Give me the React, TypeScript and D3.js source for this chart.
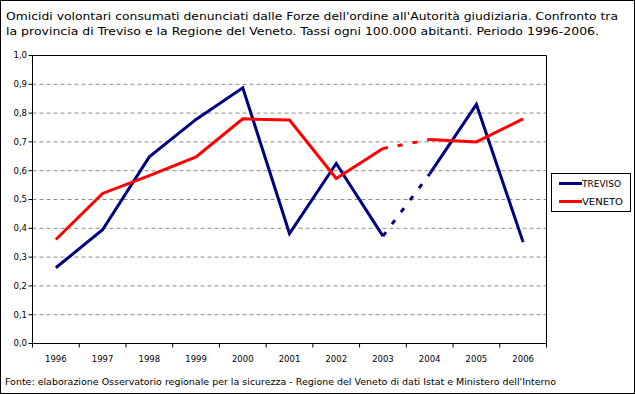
import React from "react";
import * as d3 from "d3";

// dati (tassi ogni 100.000 abitanti)
const years = ["1996", "1997", "1998", "1999", "2000", "2001", "2002", "2003", "2004", "2005", "2006"];
const treviso = [0.263, 0.395, 0.648, 0.778, 0.888, 0.382, 0.625, 0.373, 0.589, 0.83, 0.352];
const veneto = [0.361, 0.521, 0.583, 0.648, 0.78, 0.776, 0.573, 0.677, 0.708, 0.7, 0.78];
const yTicks = [0, 0.1, 0.2, 0.3, 0.4, 0.5, 0.6, 0.7, 0.8, 0.9, 1.0];
const dashedFrom = "2003"; // il tratto 2003-2004 è tratteggiato
const seriesNames = ["TREVISO", "VENETO"];
const seriesColors = ["#000080", "#FF0000"];

const titleLines = [
  "Omicidi volontari consumati denunciati dalle Forze dell'ordine all'Autorità giudiziaria. Confronto tra",
  "la provincia di Treviso e la Regione del Veneto. Tassi ogni 100.000 abitanti. Periodo 1996-2006.",
];
const source =
  "Fonte: elaborazione Osservatorio regionale per la sicurezza - Regione del Veneto di dati Istat e Ministero dell'Interno";

const W = 635;
const H = 394;
const font = "'DejaVu Sans', Verdana, sans-serif";

const x = d3.scaleBand<string>().domain(years).range([32.5, 546.5]);
const y = d3.scaleLinear().domain([0, 1]).range([343.5, 55.5]);
const cx = (yr: string) => (x(yr) as number) + x.bandwidth() / 2;

const line = d3
  .line<[string, number]>()
  .x((d) => cx(d[0]))
  .y((d) => y(d[1]));

function Series({ values, color }: { values: number[]; color: string }) {
  const pts: [string, number][] = years.map((yr, i) => [yr, values[i]]);
  const cut = years.indexOf(dashedFrom);
  const solidA = pts.slice(0, cut + 1);
  const solidB = pts.slice(cut + 1);
  const dashed = pts.slice(cut, cut + 2);
  return (
    <g fill="none" stroke={color} strokeWidth={3}>
      <path d={line(solidA) || ""} strokeLinejoin="miter" />
      <path d={line(solidB) || ""} strokeLinejoin="miter" />
      <path d={line(dashed) || ""} strokeDasharray="5,10" />
    </g>
  );
}

export default function App() {
  const fmt = (v: number) => v.toFixed(1).replace(".", ",");
  const [x0, x1] = x.range();
  const [y0, y1] = y.range();
  return (
    <svg
      width={W}
      height={H}
      style={{ position: "fixed", left: 0, top: 0, background: "#fff" }}
      fontFamily={font}
    >
      <rect x={0.5} y={0.5} width={W - 1} height={H - 1} fill="#fff" stroke="#000" />

      {titleLines.map((t, i) => (
        <text
          key={i}
          x={6}
          y={19.5 + i * 15}
          fontSize={11}
          textLength={i === 0 ? 612 : 593}
          lengthAdjust="spacingAndGlyphs"
        >
          {t}
        </text>
      ))}

      {/* griglia */}
      {yTicks.slice(1, -1).map((t) => (
        <line
          key={t}
          x1={x0}
          x2={x1}
          y1={y(t)}
          y2={y(t)}
          stroke="#8c8c8c"
          strokeDasharray="4,3"
        />
      ))}

      {/* cornice area del grafico */}
      <path d={`M${x0},${y1}H${x1}V${y0}`} fill="none" stroke="#000" />
      <line x1={x0} x2={x0} y1={y1} y2={y0 + 0.5} stroke="#000" />
      <line x1={x0} x2={x1} y1={y0} y2={y0} stroke="#000" />

      {/* asse y */}
      {yTicks.map((t) => (
        <g key={t}>
          <line x1={x0 - 4} x2={x0} y1={y(t)} y2={y(t)} stroke="#000" />
          <text x={27} y={y(t)} dy="0.35em" fontSize={8.5} textAnchor="end">
            {fmt(t)}
          </text>
        </g>
      ))}

      {/* asse x */}
      {years.map((yr) => (
        <line key={yr} x1={x(yr)} x2={x(yr)} y1={y0} y2={y0 + 4} stroke="#000" />
      ))}
      <line x1={x1} x2={x1} y1={y0} y2={y0 + 4} stroke="#000" />
      {years.map((yr) => (
        <text key={yr} x={cx(yr)} y={362} fontSize={8.5} textAnchor="middle">
          {yr}
        </text>
      ))}

      <Series values={treviso} color={seriesColors[0]} />
      <Series values={veneto} color={seriesColors[1]} />

      {/* legenda */}
      <rect x={551.5} y={173.5} width={79} height={38} fill="#fff" stroke="#000" />
      {seriesNames.map((n, i) => (
        <g key={n}>
          <line
            x1={559}
            x2={582}
            y1={183.5 + i * 18}
            y2={183.5 + i * 18}
            stroke={seriesColors[i]}
            strokeWidth={3}
          />
          <text
            x={582}
            y={186.5 + i * 18}
            fontSize={8}
            textLength={i === 0 ? 39 : 41}
            lengthAdjust="spacingAndGlyphs"
          >
            {n}
          </text>
        </g>
      ))}

      <text x={5} y={384.5} fontSize={9} textLength={551} lengthAdjust="spacingAndGlyphs">
        {source}
      </text>
    </svg>
  );
}
